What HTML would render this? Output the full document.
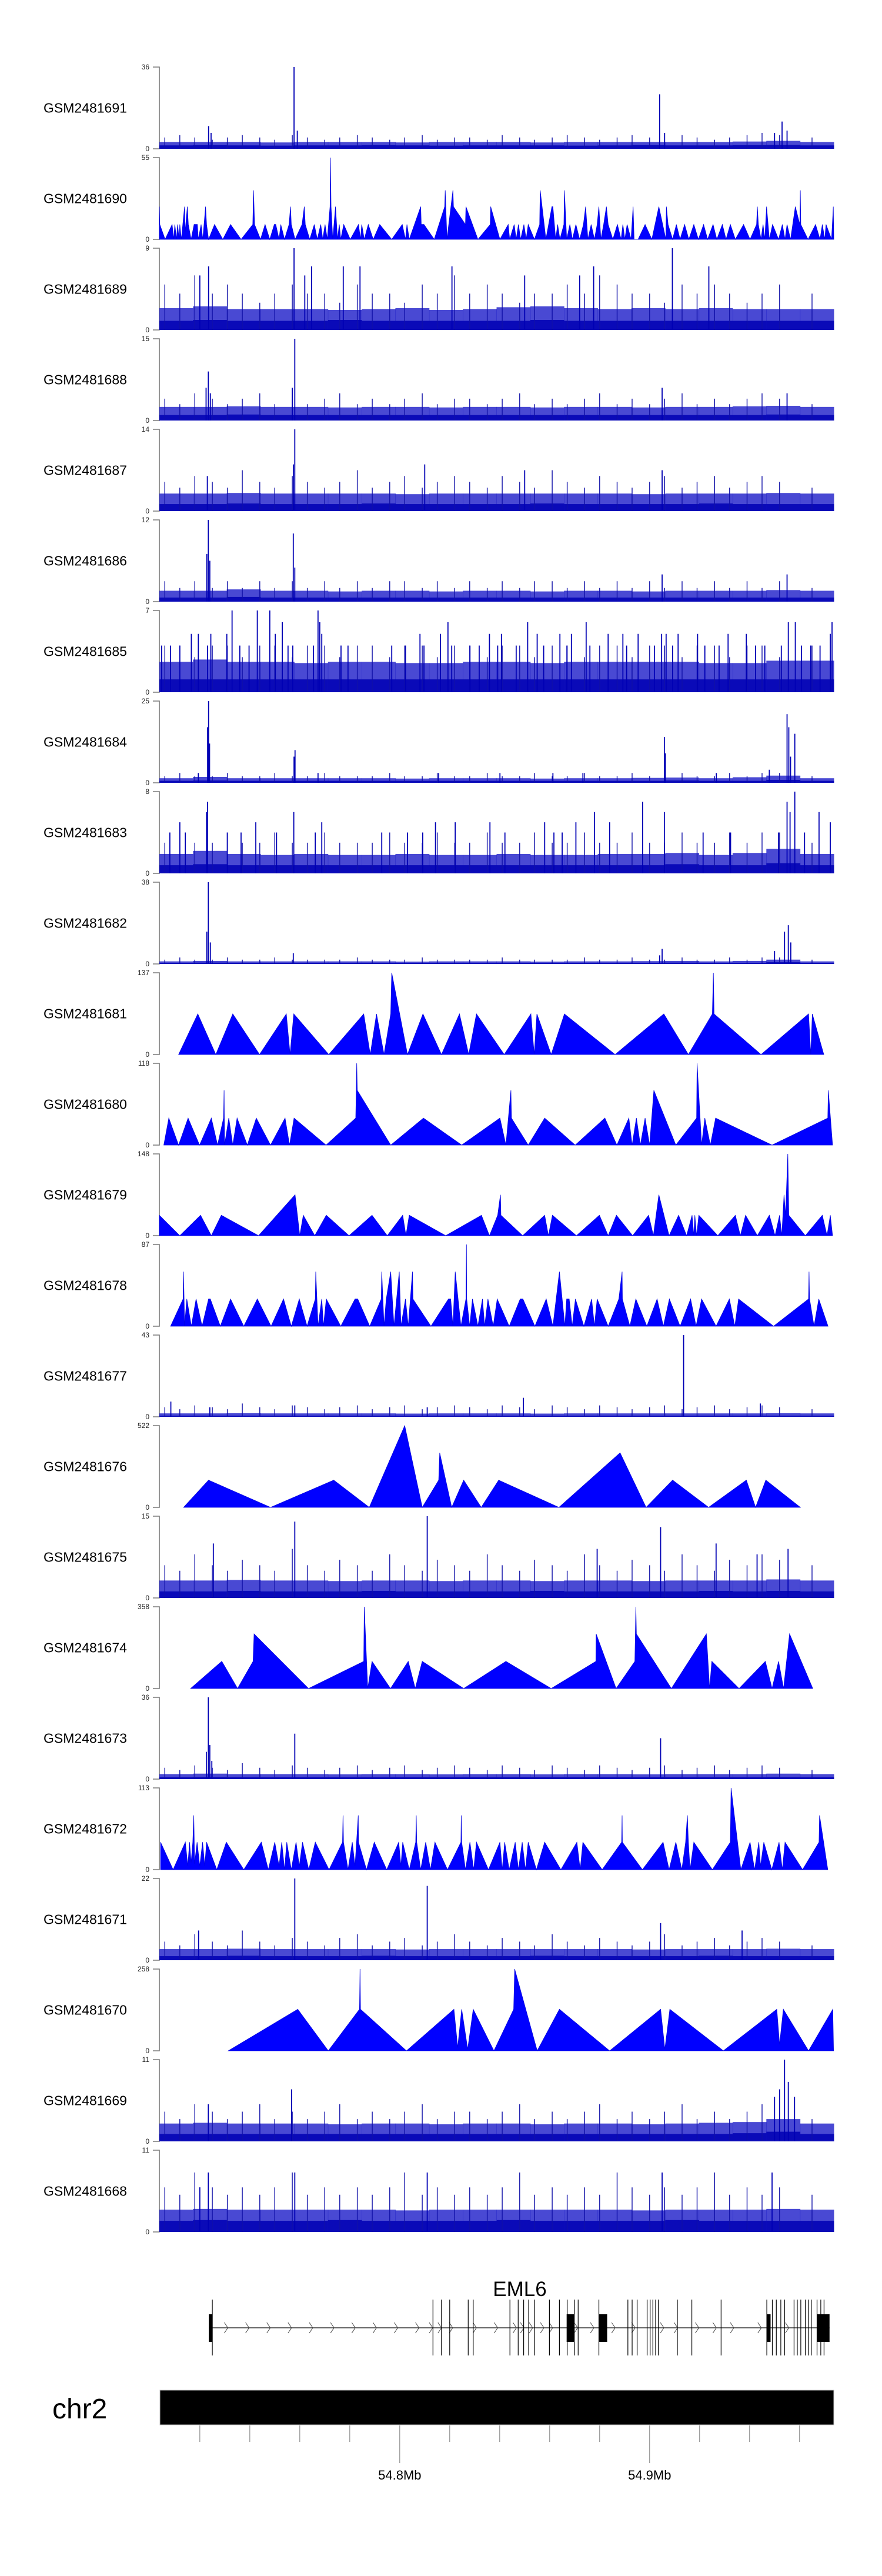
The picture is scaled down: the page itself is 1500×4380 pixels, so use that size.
<!DOCTYPE html>
<html><head><meta charset="utf-8"><title>Coverage tracks – EML6</title>
<style>
html,body{margin:0;padding:0;background:#fff;}
svg{display:block;font-family:"Liberation Sans",Arial,sans-serif;}
</style></head>
<body>
<svg id="chart" width="1500" height="4380" viewBox="0 0 1500 4380" xmlns="http://www.w3.org/2000/svg">
<rect x="0" y="0" width="1500" height="4380" fill="#fff"/>
</svg>
<script>
// ---------- Track metadata ----------
const trackNames = ["GSM2481691","GSM2481690","GSM2481689","GSM2481688","GSM2481687","GSM2481686","GSM2481685","GSM2481684","GSM2481683","GSM2481682","GSM2481681","GSM2481680","GSM2481679","GSM2481678","GSM2481677","GSM2481676","GSM2481675","GSM2481674","GSM2481673","GSM2481672","GSM2481671","GSM2481670","GSM2481669","GSM2481668"];
const trackMax = [36,55,9,15,14,12,7,25,8,38,137,118,148,87,43,522,15,358,36,113,22,258,11,11];

// genomic window in kb relative to 54.7 Mb
const xDomain = [3.8, 273.7];
const axisTicksKb = [20,40,60,80,100,120,140,160,180,200,220,240,260];
const axisLabelKb = [100,200];
const axisLabels = ["54.8Mb","54.9Mb"];

// shared background read positions (kb)
const bgPos = [6,12,18,25,31,37,44,50,57,63,70,76,83,89,96,102,109,115,122,128,135,141,148,154,161,167,174,180,187,193,200,206,213,219,226,232,239,245,252,265];

// ---------- Noise-type tracks ----------
const g1691Floor = [1.5,1.6,1.5,1.4,1.5,1.5,1.6,1.5,1.4,1.5,1.5,1.5,1.4,1.5,1.6,1.5,1.5,1.6,1.7,1.5];
const g1691Haze  = [3,3,3,2.8,3,3,3,2.8,3,3,3,2.8,3,3,3,3,3,3.2,3.5,3];
const g1691Bg    = [5,6,5,4,5,6,5,4,6,5,4,5,6,5,4,5,6,4,5,5,4,6,5,4,5,6,5,4,5,6,5,4,6,5,4,5,6,7,6,5];
const g1691PeakPos = [23.5,24.5,57.7,59,204,206,253,255,250];
const g1691PeakVal = [10,7,36,8,24,7,12,8,7];

const g1689Floor = [1,1.1,1,1,1,1.1,1,1,1,1,1,1.1,1,1,1,1,1,1,1,1];
const g1689Haze  = [2.4,2.6,2.3,2.3,2.3,2.2,2.3,2.4,2.2,2.3,2.5,2.6,2.4,2.3,2.4,2.3,2.4,2.3,2.3,2.3];
const g1689Bg    = [5,4,6,4,5,4,3,4,5,4,4,3,5,4,4,3,5,4,6,4,5,4,3,4,4,5,4,6,5,4,4,3,5,4,5,4,3,4,5,4];
const g1689PeakPos = [57.7,209.1,23.5,64.7,77.4,84.1,120.9,177.6,223.7,20,62,150,172];
const g1689PeakVal = [9,9,7,7,7,7,7,7,7,6,6,6,6];

const g1688Floor = [1,1,1.1,1,1,1,1,1,1,1,1,1,1,1,1,1,1,1,1.1,1];
const g1688Haze  = [2.5,2.5,2.6,2.5,2.5,2.4,2.5,2.5,2.4,2.5,2.5,2.4,2.5,2.5,2.4,2.5,2.5,2.6,2.7,2.5];
const g1688Bg    = [4,3,5,4,3,4,5,3,4,3,4,5,3,4,3,4,5,3,4,4,3,4,5,3,4,3,4,5,3,4,3,4,5,3,4,3,4,5,4,3];
const g1688PeakPos = [22.5,23.4,24.2,58,57,205,255];
const g1688PeakVal = [6,9,5,15,6,6,5];

const g1687Floor = [1.2,1.2,1.3,1.2,1.2,1.2,1.3,1.2,1.2,1.2,1.2,1.3,1.2,1.2,1.2,1.2,1.3,1.2,1.2,1.2];
const g1687Haze  = [3,3,3.1,3,3,3,3,2.9,3,3,3,3,3,3,2.9,3,3,3,3.1,3];
const g1687Bg    = [5,4,6,5,4,7,5,4,6,5,4,5,7,4,5,6,4,5,6,5,4,6,5,4,7,5,4,6,5,4,5,6,4,5,6,4,5,6,5,4];
const g1687PeakPos = [58,57.5,23,110,205,150];
const g1687PeakVal = [14,8,6,8,7,7];

const g1686Floor = [0.6,0.6,0.7,0.6,0.6,0.6,0.6,0.6,0.6,0.6,0.6,0.6,0.6,0.6,0.6,0.6,0.6,0.6,0.6,0.6];
const g1686Haze  = [1.6,1.6,1.8,1.6,1.6,1.5,1.6,1.6,1.5,1.6,1.6,1.5,1.6,1.6,1.5,1.6,1.6,1.6,1.7,1.6];
const g1686Bg    = [3,2,3,2,3,2,3,2,3,2,3,2,3,2,3,3,2,3,2,3,2,3,2,3,3,2,3,2,3,2,3,2,3,2,3,2,3,2,3,2];
const g1686PeakPos = [23.4,22.8,24,57.4,58,205,255];
const g1686PeakVal = [12,7,6,10,5,4,4];

const g1685Floor = [1.1,1.1,1.1,1.1,1.1,1.1,1.1,1.1,1.1,1.1,1.1,1.1,1.1,1.1,1.1,1.1,1.1,1.1,1.1,1.1];
const g1685Haze  = [2.6,2.8,2.6,2.6,2.5,2.6,2.6,2.5,2.5,2.6,2.6,2.5,2.6,2.6,2.6,2.6,2.5,2.5,2.7,2.7];
const g1685Bg    = [4,4,3,4,4,3,4,4,3,4,4,3,4,4,3,4,4,3,4,4,3,4,4,3,4,4,3,4,4,3,4,4,3,4,4,3,4,4,3,4];
const g1685PeakPos = [32.9,43.0,48.0,53.0,67.3,68.0,19.4,16.6,24.4,30.8,50.2,68.8,108.1,116.3,119.3,135.9,140.7,151.2,155.0,164.1,168.7,174.6,183.4,189.3,195.4,204.8,206.6,211.4,219.2,231.4,238.7,252.7,255.5,258.3,268.2,272.3,273.0,4.7,8.3,12.0,23.1,36.0,39.7,55.3,57.2,65.5,76.5,79.3,96.8,102.3,109.7,120.8,128.1,131.8,139.2,146.6,157.6,166.9,176.1,190.8,201.9,209.2,222.1,227.8,242.4,246.1,260.8,264.5];
const g1685PeakVal = [7,7,7,6,7,6,5,5,5,5,5,5,5,5,6,5,5,6,5,5,5,6,5,5,5,5,5,5,5,5,5,4,6,6,4,5,6,4,4,4,4,4,4,4,4,4,4,4,4,4,4,4,4,4,4,4,4,4,4,4,4,4,4,4,4,4,4,4];

const g1684Floor = [0.6,0.7,0.6,0.6,0.6,0.6,0.6,0.6,0.6,0.6,0.6,0.6,0.6,0.6,0.6,0.7,0.6,0.6,0.9,0.6];
const g1684Haze  = [1.4,1.8,1.4,1.4,1.4,1.4,1.4,1.3,1.4,1.4,1.4,1.3,1.4,1.4,1.5,1.6,1.4,1.7,2.2,1.4];
const g1684Bg    = [2,3,2,2,3,2,2,3,2,2,3,2,2,2,3,2,2,3,2,2,3,2,2,3,2,2,3,2,2,3,2,2,3,2,2,3,2,3,3,2];
const g1684PeakPos = [23.5,23.1,23.9,58.1,57.7,205.9,206.3,255.0,255.7,258.1,256.4,247.9,19.4,67.3,115.6,140.1,161.3,173.3,226.7];
const g1684PeakVal = [25,17,12,10,8,14,9,21,17,15,8,4,3,3,3,3,3,3,3];

const g1683Floor = [0.8,0.9,0.8,0.8,0.8,0.8,0.8,0.8,0.8,0.8,0.8,0.8,0.8,0.8,0.8,0.9,0.8,0.8,1.0,0.8];
const g1683Haze  = [1.9,2.2,1.9,1.8,1.9,1.8,1.8,1.9,1.8,1.8,1.9,1.8,1.8,1.9,1.9,2.0,1.8,2.0,2.4,1.9];
const g1683Bg    = [3,4,3,3,4,3,3,4,3,3,4,3,3,3,4,3,3,4,3,3,4,3,3,4,3,3,4,3,3,4,3,3,4,3,3,4,3,4,4,3];
const g1683PeakPos = [23.1,22.7,57.6,197.2,205.9,255.0,258.1,256.2,267.8,177.9,158.0,170.5,184.0,42.4,12.0,68.8,114.3,122.2,136.1,272.3,8.0,14.2,31.0,36.5,50.7,66.2,92.8,103.1,109.2,142.1,161.7,165.0,221.4,232.4,251.6,262.0];
const g1683PeakVal = [7,6,6,7,6,7,8,6,6,6,5,5,5,5,5,5,5,5,5,5,4,4,4,4,4,4,4,4,4,4,4,4,4,4,4,4];

const g1682Floor = [0.5,0.6,0.5,0.5,0.5,0.5,0.5,0.5,0.5,0.5,0.5,0.5,0.5,0.5,0.5,0.6,0.5,0.5,0.8,0.5];
const g1682Haze  = [1.2,1.4,1.2,1.2,1.2,1.2,1.2,1.1,1.2,1.2,1.2,1.1,1.2,1.2,1.3,1.4,1.2,1.4,2.0,1.2];
const g1682Bg    = [2,3,2,2,3,2,2,3,2,2,2,2,3,2,2,2,3,2,2,2,2,3,2,2,2,2,3,2,2,3,2,2,3,2,2,3,2,3,3,2];
const g1682PeakPos = [23.4,22.8,24.2,57.4,205,204,250,254,255.5,256.5];
const g1682PeakVal = [38,15,10,5,7,4,6,15,18,10];

const g1677Floor = [0.6,0.6,0.6,0.6,0.6,0.6,0.6,0.6,0.6,0.6,0.6,0.6,0.6,0.6,0.6,0.6,0.6,0.6,0.6,0.6];
const g1677Haze  = [1.8,1.8,1.9,1.8,1.8,1.8,1.8,1.7,1.8,1.8,1.8,1.7,1.8,1.8,1.8,1.8,1.8,1.8,1.9,1.8];
const g1677Bg    = [5,4,6,5,4,7,5,4,6,5,4,5,6,4,5,6,4,5,6,5,4,6,5,4,6,5,4,6,5,4,5,6,4,5,6,4,5,6,5,4];
const g1677PeakPos = [213.6,149.5,8.4,58,244.3,111,24];
const g1677PeakVal = [43,10,8,6,7,5,5];

const g1675Floor = [1.2,1.2,1.3,1.2,1.2,1.2,1.3,1.2,1.2,1.2,1.2,1.3,1.2,1.2,1.2,1.2,1.3,1.2,1.3,1.2];
const g1675Haze  = [3.2,3.2,3.3,3.2,3.2,3.1,3.2,3.2,3.1,3.2,3.2,3.1,3.2,3.2,3.1,3.2,3.2,3.2,3.4,3.2];
const g1675Bg    = [6,5,8,6,5,7,6,5,9,6,5,7,6,5,8,6,5,7,6,5,8,6,5,7,6,5,8,6,5,7,6,5,8,6,5,7,6,8,7,6];
const g1675PeakPos = [58,111,204.4,25.4,179,226.6,243,255.4];
const g1675PeakVal = [14,15,13,10,9,10,8,9];

const g1673Floor = [0.8,0.9,0.8,0.8,0.8,0.8,0.8,0.8,0.8,0.8,0.8,0.8,0.8,0.8,0.8,0.8,0.8,0.8,0.9,0.8];
const g1673Haze  = [2.2,2.4,2.2,2.2,2.2,2.1,2.2,2.2,2.1,2.2,2.2,2.1,2.2,2.2,2.1,2.2,2.2,2.2,2.4,2.2];
const g1673Bg    = [5,4,6,5,4,7,5,4,6,5,4,5,6,4,5,6,4,5,6,5,4,6,5,4,6,5,4,6,5,4,5,6,4,5,6,4,5,6,5,4];
const g1673PeakPos = [23.4,22.6,24,58,204.4,24.8];
const g1673PeakVal = [36,12,15,20,18,8];

const g1671Floor = [1.1,1.1,1.2,1.1,1.1,1.1,1.2,1.1,1.1,1.1,1.1,1.2,1.1,1.1,1.1,1.1,1.2,1.1,1.1,1.1];
const g1671Haze  = [3,3,3.1,3,3,3,3,2.9,3,3,3,3,3,3,2.9,3,3,3,3.1,3];
const g1671Bg    = [5,4,7,5,4,8,5,4,6,5,4,6,7,4,5,6,4,5,7,5,4,6,5,4,7,5,4,6,5,4,5,7,4,5,6,4,5,6,5,4];
const g1671PeakPos = [58,111,204.4,237,19.5];
const g1671PeakVal = [22,20,10,8,8];

const g1669Floor = [1,1,1,1,1,1,1,1,1,1,1,1,1,1,1,1,1,1.1,1.3,1];
const g1669Haze  = [2.4,2.5,2.4,2.4,2.4,2.3,2.4,2.4,2.3,2.4,2.4,2.3,2.4,2.4,2.3,2.4,2.5,2.6,3.0,2.4];
const g1669Bg    = [4,3,5,4,3,4,5,3,4,3,4,5,3,4,3,4,5,3,4,4,3,4,5,3,4,3,4,5,3,4,3,4,5,3,4,3,4,5,4,3];
const g1669PeakPos = [254,255.5,252,250,56.7,23.4,258];
const g1669PeakVal = [11,8,7,6,7,5,6];

const g1668Floor = [1.5,1.6,1.5,1.5,1.5,1.6,1.5,1.5,1.5,1.5,1.6,1.5,1.5,1.5,1.5,1.6,1.5,1.5,1.5,1.5];
const g1668Haze  = [3,3.1,3,3,3,3,3,2.9,3,3,3,3,3,3,2.9,3,3,3,3.1,3];
const g1668Bg    = [6,5,8,6,5,6,5,6,8,5,6,5,6,5,6,8,5,6,5,6,5,6,8,5,6,5,6,5,8,6,5,6,5,6,8,5,6,5,6,5];
const g1668PeakPos = [58,23.4,111,205,249,20];
const g1668PeakVal = [8,8,8,8,8,6];

// ---------- Triangle (sparse) tracks ----------
const g1690Pos = [3.8,4.0,6.1,8.9,9.6,10.0,10.7,11.1,11.7,12.0,12.6,13.9,14.1,15.0,15.4,16.5,17.7,19.0,19.4,20.5,21.2,22.3,22.7,23.5,25.9,29.2,32.3,36.5,41.2,41.5,41.9,44.3,46.1,48.0,49.8,50.4,51.7,52.4,53.9,55.7,56.3,56.6,58.1,60.9,61.8,62.2,64.0,65.8,67.0,68.4,69.2,70.1,71.0,72.1,72.3,72.5,73.2,74.3,75.1,75.8,76.4,77.6,80.2,83.5,84.3,84.8,85.8,87.4,89.4,92.0,96.8,101.0,102.3,102.9,103.8,108.4,108.6,109.7,113.8,118.0,118.2,118.9,121.3,121.5,126.3,126.5,131.3,136.2,136.4,140.1,143.4,144.0,145.8,146.6,147.5,148.4,149.7,150.6,151.4,153.9,156.0,156.2,158.5,160.9,161.3,162.4,163.2,164.1,165.7,165.9,166.8,168.1,169.1,170.5,172.0,173.5,174.4,175.3,176.6,177.9,179.0,179.7,180.5,181.6,182.7,183.4,185.3,187.1,188.6,189.3,190.1,191.0,192.6,193.4,193.8,195.4,198.2,200.9,203.7,206.5,206.7,207.4,209.2,210.7,212.2,214.0,215.7,217.7,219.5,221.6,223.2,225.4,226.9,229.1,230.6,232.3,234.3,237.6,240.2,242.8,243.1,243.5,244.6,245.4,246.1,246.8,247.9,249.2,251.6,253.1,254.2,255.0,256.4,258.3,260.1,260.3,260.5,263.4,266.4,268.2,269.1,270.1,270.6,272.8,273.5,273.7];
const g1690Val = [22,10,0,10,0,10,0,10,0,10,0,22,5,22,10,0,10,10,0,10,0,22,10,0,10,0,10,0,10,33,10,0,10,0,10,10,0,10,0,10,22,10,0,10,22,10,0,10,0,10,0,10,0,22,55,22,0,22,0,10,0,10,0,10,0,10,0,10,0,10,0,10,0,10,0,22,10,10,0,22,33,0,33,22,10,22,0,10,22,0,10,0,10,0,10,0,10,0,10,0,10,33,0,22,22,0,10,0,10,33,0,10,0,10,0,10,22,0,10,0,10,22,0,10,22,10,0,10,0,10,0,10,0,22,0,0,10,0,22,0,22,10,0,10,0,10,0,10,0,10,0,10,0,10,0,10,0,10,0,10,22,10,0,10,0,22,0,10,0,10,0,10,0,22,10,33,10,0,10,0,10,0,10,0,22,0];

const g1681Pos = [11.5,19.2,26.4,33.2,43.9,54.6,56.1,57.6,71.6,85.6,88.2,90.7,93.7,96.4,96.8,103.1,109.3,116.7,123.9,127.6,130.7,141.8,152.5,153.8,154.9,160.6,165.9,186.2,205.7,215.5,225.1,225.5,225.8,244.6,263.6,264.5,265.1,269.7];
const g1681Val = [0,68,0,68,0,68,0,68,0,68,0,68,0,68,137,0,68,0,68,0,68,0,68,0,68,0,68,0,68,0,68,137,68,0,68,0,68,0];

const g1680Pos = [5.6,7.6,11.5,15.3,19.9,24.6,27.1,29.5,29.7,29.9,31.6,33.2,34.9,39.0,42.6,48.3,54.1,55.9,57.7,70.5,82.4,82.8,83.0,96.4,109.5,124.8,140.1,142.5,144.5,144.7,151.4,158.0,170.2,182.1,186.9,191.7,193.0,194.7,196.3,198.2,200.0,201.7,210.5,218.8,219.0,220.8,222.1,224.3,226.4,249.0,271.3,271.5,273.2];
const g1680Val = [0,39,0,39,0,39,0,39,79,0,39,0,39,0,39,0,39,0,39,0,39,118,79,0,39,0,39,0,79,39,0,39,0,39,0,39,0,39,0,39,0,79,0,39,118,0,39,0,39,0,39,79,0];

const g1679Pos = [3.8,12.0,20.3,24.6,28.6,43.5,58.1,60.0,61.4,66.0,70.6,79.7,88.9,95.0,101.2,102.5,103.8,118.4,132.7,135.9,139.2,140.3,140.5,149.2,158.0,159.5,161.1,170.7,179.9,183.4,186.7,193.2,199.6,201.5,203.7,207.8,211.6,214.8,217.0,217.7,218.1,218.8,219.7,227.3,234.3,236.3,238.4,243.1,247.9,250.2,252.0,252.9,253.8,254.4,255.3,255.7,262.3,269.1,271.0,272.3,273.2];
const g1679Val = [37,0,37,0,37,0,74,0,37,0,37,0,37,0,37,0,37,0,37,0,37,74,37,0,37,0,37,0,37,0,37,0,37,0,74,0,37,0,37,0,37,0,37,0,37,0,37,0,37,0,37,0,74,37,148,37,0,37,0,37,0];

const g1678Pos = [8.3,13.3,13.5,13.9,14.8,16.6,18.5,20.9,23.5,24.2,28.2,32.3,37.6,43.0,48.5,53.5,56.6,59.8,62.9,66.2,66.4,67.3,68.8,69.5,70.6,76.4,82.1,83.2,88.0,92.6,92.8,93.7,94.6,96.4,97.7,99.8,100.5,102.3,103.4,105.1,105.3,112.5,119.5,120.4,121.3,122.2,124.5,126.5,126.7,126.8,128.0,129.1,131.3,133.1,134.0,135.3,137.4,139.0,143.8,148.2,149.3,154.1,158.6,161.3,163.9,166.1,166.8,167.8,169.0,170.3,173.7,176.8,177.9,179.0,183.4,187.7,189.0,189.1,192.1,194.5,198.9,203.0,205.5,207.9,212.2,216.4,218.6,220.8,226.6,231.9,234.1,235.6,249.6,263.6,263.8,264.0,265.8,267.7,271.4];
const g1678Val = [0,29,58,0,29,0,29,0,29,29,0,29,0,29,0,29,0,29,0,29,58,0,29,0,29,0,29,29,0,29,58,0,29,58,0,58,0,29,0,58,29,0,29,29,0,58,0,29,87,29,0,29,0,29,0,29,0,29,0,29,29,0,29,0,58,0,29,29,0,29,0,29,0,29,0,29,58,29,0,29,0,29,0,29,0,29,0,29,0,29,0,29,0,29,58,29,0,29,0];

const g1676Pos = [13.5,23.5,48.3,73.6,87.8,102.0,109.0,115.6,116.0,120.8,125.6,132.6,139.6,163.7,188.2,198.6,209.2,223.6,238.7,242.4,246.5,260.3];
const g1676Val = [0,174,0,174,0,522,0,174,348,0,174,0,174,0,348,0,174,0,174,0,174,0];

const g1674Pos = [16.3,28.8,35.1,41.3,41.7,63.5,85.6,85.8,87.2,88.9,96.3,103.4,106.2,109.0,125.6,142.5,160.6,178.5,178.6,186.6,194.1,194.5,194.7,208.7,222.7,224.0,224.9,235.8,246.3,249.0,251.6,253.6,256.0,265.3];
const g1674Val = [0,119,0,119,239,0,119,358,0,119,0,119,0,119,0,119,0,119,239,0,119,358,239,0,239,0,119,0,119,0,119,0,239,0];

const g1672Pos = [4.3,9.3,14.2,15.2,15.9,16.5,17.2,17.6,17.9,18.9,20.0,21.1,22.0,22.7,26.8,30.6,37.6,44.6,47.4,50.0,51.7,52.8,53.9,54.8,56.6,58.5,59.8,61.1,63.6,66.2,71.7,77.1,77.3,77.5,79.3,81.0,82.1,83.4,83.5,86.7,89.8,94.8,99.6,100.5,101.2,103.8,106.4,106.6,106.8,108.4,110.4,112.3,114.1,119.1,124.5,124.6,124.8,126.3,128.1,129.6,130.7,135.5,140.1,141.0,142.0,143.8,146.2,147.5,149.0,150.3,151.4,154.7,158.0,164.5,170.9,172.2,173.3,181.0,188.8,189.0,189.1,197.1,205.4,207.8,210.5,212.9,214.4,215.1,215.5,216.2,217.7,225.1,232.3,232.6,236.5,240.2,242.0,243.7,244.4,245.7,248.9,251.8,253.1,254.2,261.2,267.8,268.0,271.3];
const g1672Val = [38,0,38,5,38,10,38,75,8,38,5,38,5,38,0,38,0,38,0,38,5,38,0,38,0,38,5,38,0,38,0,38,75,38,0,38,5,75,38,0,38,0,38,5,38,0,38,75,38,0,38,0,38,0,38,75,38,0,38,0,38,0,38,0,38,0,38,0,38,0,38,0,38,0,38,0,38,0,38,75,38,0,38,0,38,0,38,75,38,0,38,0,38,113,0,38,0,38,5,38,0,38,0,38,0,38,75,0];

const g1670Pos = [31.4,59.2,71.4,83.9,84.1,84.3,102.7,121.7,123.2,124.8,127.2,129.4,137.7,145.6,146.0,155.0,163.9,184.0,204.4,206.1,208.1,229.5,250.9,252.0,253.5,263.6,273.3,273.6];
const g1670Val = [0,131,0,131,258,131,0,131,10,131,5,131,0,131,258,0,131,0,131,5,131,0,131,20,131,0,131,0];

// ---------- Gene model (EML6) ----------
const geneStartKb = 23.6, geneEndKb = 272.0;
const exonThinKb = [25.0,113.3,116.7,120.0,127.4,129.4,144.1,147.4,149.6,151.6,153.9,159.9,163.9,167.0,169.9,171.4,179.7,191.3,193.0,195.0,199.0,200.2,201.3,202.4,203.5,211.1,216.9,228.6,246.9,249.1,250.7,252.5,254.0,257.8,259.1,260.5,262.3,263.6,264.7,267.0,268.5,269.8];
const exonBlockStart = [23.6,166.8,179.7,246.9,267.0];
const exonBlockEnd   = [25.0,169.7,183.0,248.4,272.0];
const strandArrowKb = [30.5,39,47.5,56,64.5,73,81.5,90,98.5,107,112.5,116,120.5,130,138.5,146,149,152.5,157,160.5,170.5,177,185.5,193.5,205,210.5,219,226,233,244,255];

// ---------- Layout ----------
const NS = "http://www.w3.org/2000/svg";
const svg = document.getElementById("chart");
const X0 = 271, X1 = 1418, TOP0 = 114, PITCH = 154, TH = 139;
function xScale(kb){ return X0 + (kb - xDomain[0]) / (xDomain[1] - xDomain[0]) * (X1 - X0); }
function yScale(v, i){ const base = TOP0 + PITCH*i + TH; return base - Math.min(v, trackMax[i]) / trackMax[i] * TH; }
function mk(tag, attrs, parent){ const e = document.createElementNS(NS, tag); for (const k in attrs) e.setAttribute(k, attrs[k]); (parent||svg).appendChild(e); return e; }

const noiseTracks = {
  "GSM2481691":[g1691Floor,g1691Haze,g1691Bg,g1691PeakPos,g1691PeakVal],
  "GSM2481689":[g1689Floor,g1689Haze,g1689Bg,g1689PeakPos,g1689PeakVal],
  "GSM2481688":[g1688Floor,g1688Haze,g1688Bg,g1688PeakPos,g1688PeakVal],
  "GSM2481687":[g1687Floor,g1687Haze,g1687Bg,g1687PeakPos,g1687PeakVal],
  "GSM2481686":[g1686Floor,g1686Haze,g1686Bg,g1686PeakPos,g1686PeakVal],
  "GSM2481685":[g1685Floor,g1685Haze,g1685Bg,g1685PeakPos,g1685PeakVal],
  "GSM2481684":[g1684Floor,g1684Haze,g1684Bg,g1684PeakPos,g1684PeakVal],
  "GSM2481683":[g1683Floor,g1683Haze,g1683Bg,g1683PeakPos,g1683PeakVal],
  "GSM2481682":[g1682Floor,g1682Haze,g1682Bg,g1682PeakPos,g1682PeakVal],
  "GSM2481677":[g1677Floor,g1677Haze,g1677Bg,g1677PeakPos,g1677PeakVal],
  "GSM2481675":[g1675Floor,g1675Haze,g1675Bg,g1675PeakPos,g1675PeakVal],
  "GSM2481673":[g1673Floor,g1673Haze,g1673Bg,g1673PeakPos,g1673PeakVal],
  "GSM2481671":[g1671Floor,g1671Haze,g1671Bg,g1671PeakPos,g1671PeakVal],
  "GSM2481669":[g1669Floor,g1669Haze,g1669Bg,g1669PeakPos,g1669PeakVal],
  "GSM2481668":[g1668Floor,g1668Haze,g1668Bg,g1668PeakPos,g1668PeakVal]
};
const triTracks = {
  "GSM2481690":[g1690Pos,g1690Val], "GSM2481681":[g1681Pos,g1681Val], "GSM2481680":[g1680Pos,g1680Val],
  "GSM2481679":[g1679Pos,g1679Val], "GSM2481678":[g1678Pos,g1678Val], "GSM2481676":[g1676Pos,g1676Val],
  "GSM2481674":[g1674Pos,g1674Val], "GSM2481672":[g1672Pos,g1672Val], "GSM2481670":[g1670Pos,g1670Val]
};

trackNames.forEach((name, i) => {
  const top = TOP0 + PITCH*i, base = top + TH;
  const g = mk("g", {});
  
  

  const lab = mk("text", {x:74, y:top + TH/2 + 8, "font-size":23, fill:"#000"}, g);
  lab.textContent = name;
  
  

  const ax = mk("path", {d:`M${X0-11},${top}H${X0}V${base}H${X0-11}`, fill:"none", stroke:"#7a7a7a", "stroke-width":1.6}, g);
  
  
  const tMax = mk("text", {x:X0-17, y:top+4, "font-size":12, "text-anchor":"end", fill:"#222"}, g);
  tMax.textContent = String(trackMax[i]);
  
  
  const t0 = mk("text", {x:X0-17, y:base+4, "font-size":12, "text-anchor":"end", fill:"#222"}, g);
  t0.textContent = "0";
  
  

  if (noiseTracks[name]) {
    const [floor, haze, bg, pPos, pVal] = noiseTracks[name];
    const nb = floor.length, bw = (xDomain[1]-xDomain[0])/nb;
    for (let j = 0; j < nb; j++) {
      const xa = xScale(xDomain[0] + j*bw), xb = xScale(xDomain[0] + (j+1)*bw);
      const hz = mk("rect", {x:xa, y:yScale(haze[j], i), width:xb-xa+0.5, height:base - yScale(haze[j], i), fill:"#1c1cc8", opacity:0.8}, g);
      
      
      const fl = mk("rect", {x:xa, y:yScale(floor[j], i), width:xb-xa+0.5, height:base - yScale(floor[j], i), fill:"#0a0ab8"}, g);
      
      
    }
    let d = "";
    for (let k = 0; k < Math.min(bgPos.length, bg.length); k++) {
      const x = xScale(bgPos[k]);
      d += `M${x.toFixed(1)},${base}V${yScale(bg[k], i).toFixed(1)}`;
    }
    const bgl = mk("path", {d, stroke:"#1010a8", "stroke-width":1.4, fill:"none"}, g);
    
    
    for (let k = 0; k < Math.min(pPos.length, pVal.length); k++) {
      const x = xScale(pPos[k]);
      const pk = mk("line", {x1:x, x2:x, y1:base, y2:yScale(pVal[k], i), stroke:"#0000b4", "stroke-width":1.8}, g);
      
      
    }
  } else if (triTracks[name]) {
    const [pos, val] = triTracks[name];
    const n = Math.min(pos.length, val.length);
    let d = `M${xScale(pos[0]).toFixed(1)},${base}`;
    for (let k = 0; k < n; k++) d += `L${xScale(pos[k]).toFixed(1)},${yScale(val[k], i).toFixed(1)}`;
    d += `L${xScale(pos[n-1]).toFixed(1)},${base}Z`;
    const ar = mk("path", {d, fill:"#0000ff", stroke:"#0000e0", "stroke-width":0.8}, g);
    
    
  }
});

// ---------- Gene track ----------
const gg = mk("g", {});


const geneY = 3958;
const gname = mk("text", {x:884, y:3904, "font-size":35, "text-anchor":"middle", fill:"#000"}, gg);
gname.textContent = "EML6";


const gl = mk("line", {x1:xScale(geneStartKb), x2:xScale(geneEndKb), y1:geneY, y2:geneY, stroke:"#333", "stroke-width":1.5}, gg);


strandArrowKb.forEach(kb => {
  const x = xScale(kb);
  const a = mk("path", {d:`M${x-3},${geneY-9}L${x+3},${geneY}L${x-3},${geneY+9}`, fill:"none", stroke:"#444", "stroke-width":1}, gg);
  
  
});
exonThinKb.forEach(kb => {
  const x = xScale(kb);
  const e = mk("line", {x1:x, x2:x, y1:3910, y2:4005, stroke:"#000", "stroke-width":1.2}, gg);
  
  
});
exonBlockStart.forEach((s, k) => {
  const xa = xScale(s), xb = xScale(exonBlockEnd[k]);
  const b = mk("rect", {x:xa, y:3935, width:Math.max(3, xb-xa), height:47, fill:"#000"}, gg);
  
  
});

// ---------- Chromosome ideogram / axis ----------
const cg = mk("g", {});


const chrLab = mk("text", {x:89, y:4112, "font-size":48, fill:"#000"}, cg);
chrLab.textContent = "chr2";


const bar = mk("rect", {x:X0+1, y:4064, width:X1-X0-1, height:59, fill:"#000", stroke:"#bbb", "stroke-width":1}, cg);


axisTicksKb.forEach(kb => {
  const x = xScale(kb);
  const major = axisLabelKb.indexOf(kb) >= 0;
  const t = mk("line", {x1:x, x2:x, y1:4124, y2: major ? 4188 : 4152, stroke:"#777", "stroke-width":1}, cg);
  
  
});
axisLabelKb.forEach((kb, k) => {
  const t = mk("text", {x:xScale(kb), y:4216, "font-size":22, "text-anchor":"middle", fill:"#000"}, cg);
  t.textContent = axisLabels[k];
  
  
});
</script>
</body></html>
